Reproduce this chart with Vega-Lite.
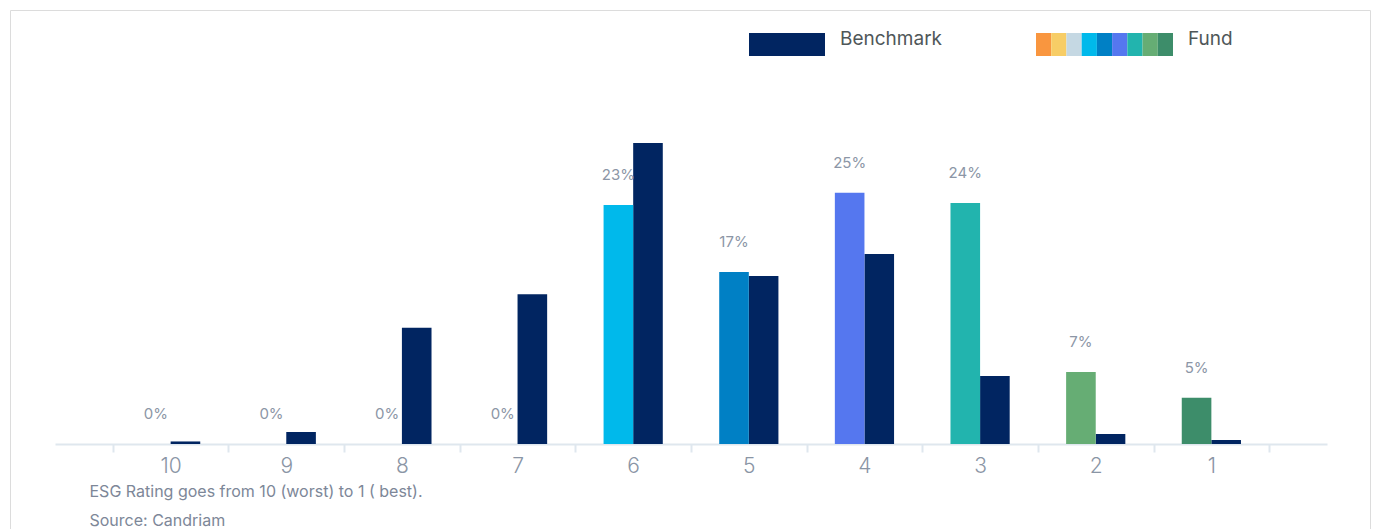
{
  "$schema": "https://vega.github.io/schema/vega-lite/v6.json",
  "width": 1360,
  "height": 530,
  "autosize": {"type": "none"},
  "padding": {"left": 10, "top": 10, "right": 7, "bottom": -11},
  "background": "white",
  "config": {
    "font": "Inter",
    "view": {"stroke": "#dcdcdc", "strokeWidth": 1}
  },
  "data": {
    "values": [
      {"rating": 10, "series": "Fund", "value": 0},
      {"rating": 10, "series": "Benchmark", "value": 0.0025},
      {"rating": 9, "series": "Fund", "value": 0},
      {"rating": 9, "series": "Benchmark", "value": 0.0118},
      {"rating": 8, "series": "Fund", "value": 0},
      {"rating": 8, "series": "Benchmark", "value": 0.114},
      {"rating": 7, "series": "Fund", "value": 0},
      {"rating": 7, "series": "Benchmark", "value": 0.147},
      {"rating": 6, "series": "Fund", "value": 0.2345},
      {"rating": 6, "series": "Benchmark", "value": 0.2954},
      {"rating": 5, "series": "Fund", "value": 0.1688},
      {"rating": 5, "series": "Benchmark", "value": 0.1649},
      {"rating": 4, "series": "Fund", "value": 0.2466},
      {"rating": 4, "series": "Benchmark", "value": 0.1865},
      {"rating": 3, "series": "Fund", "value": 0.2365},
      {"rating": 3, "series": "Benchmark", "value": 0.0667},
      {"rating": 2, "series": "Fund", "value": 0.0707},
      {"rating": 2, "series": "Benchmark", "value": 0.0098},
      {"rating": 1, "series": "Fund", "value": 0.0455},
      {"rating": 1, "series": "Benchmark", "value": 0.0039}
    ]
  },
  "encoding": {
    "x": {
      "field": "rating",
      "type": "ordinal",
      "sort": "descending",
      "scale": {"range": [45, 1317], "paddingInner": 0, "paddingOuter": 0.5},
      "axis": {
        "title": ["ESG Rating goes from 10 (worst) to 1 ( best).", "Source: Candriam"],
        "offset": -96,
        "labelAngle": 0,
        "tickBand": "extent",
        "tickSize": 8,
        "tickWidth": 2,
        "tickColor": "#dfe7ee",
        "domainColor": "#dfe7ee",
        "domainWidth": 2,
        "labelFontSize": 21,
        "labelFontWeight": 300,
        "labelColor": "#8a95a5",
        "labelPadding": 3,
        "titleX": 79,
        "titleY": 52,
        "titleAlign": "left",
        "titleAnchor": "start",
        "titleBaseline": "alphabetic",
        "titleFontSize": 16,
        "titleFontWeight": "normal",
        "titleColor": "#7d8798",
        "titleLineHeight": 29,
        "grid": false
      }
    },
    "xOffset": {
      "field": "series",
      "type": "nominal",
      "sort": ["Fund", "Benchmark"],
      "scale": {"paddingInner": 0, "paddingOuter": 0.953}
    },
    "y": {
      "field": "value",
      "type": "quantitative",
      "scale": {"domain": [0, 0.416], "range": [434, 10], "nice": false},
      "axis": null
    }
  },
  "layer": [
    {
      "transform": [
        {"filter": "datum.series === 'Benchmark'"}
      ],
      "mark": {"type": "bar"},
      "encoding": {
        "fill": {
          "field": "series",
          "type": "nominal",
          "scale": {"range": ["#012561"]},
          "legend": {
            "orient": "none",
            "legendX": 739,
            "legendY": -3.5,
            "title": null,
            "padding": 0,
            "symbolType": "M-1,-0.3026H1V0.3026H-1Z",
            "symbolSize": 5776,
            "symbolStrokeWidth": 0,
            "labelOffset": 15,
            "labelFontSize": 19,
            "labelBaseline": "alphabetic",
            "labelColor": "#4f5759"
          }
        }
      }
    },
    {
      "transform": [
        {"filter": "datum.series === 'Fund'"},
        {"calculate": "10 - datum.rating", "as": "pos"}
      ],
      "mark": {"type": "bar"},
      "encoding": {
        "color": {
          "field": "pos",
          "type": "quantitative",
          "scale": {
            "type": "quantize",
            "domain": [0.5, 9.5],
            "nice": false,
            "zero": false,
            "range": ["#f9963f", "#f7cd66", "#c5d8e3", "#00b9eb", "#0080c5", "#5577ef", "#22b4ae", "#66ad74", "#3d8d6a"]
          },
          "legend": {
            "orient": "none",
            "legendX": 1026,
            "legendY": 23,
            "type": "gradient",
            "direction": "horizontal",
            "padding": 0,
            "title": "Fund",
            "titleOrient": "right",
            "titlePadding": 15,
            "titleFontSize": 19,
            "titleFontWeight": "normal",
            "titleBaseline": "alphabetic",
            "titleColor": "#4f5759",
            "gradientLength": 137,
            "gradientThickness": 23,
            "gradientStrokeWidth": 0,
            "labelExpr": "''",
            "labelFontSize": 1
          }
        }
      }
    },
    {
      "transform": [
        {"filter": "datum.series === 'Fund'"}
      ],
      "mark": {"type": "text", "baseline": "middle", "dy": -30, "fontSize": 15, "color": "#8c96a6"},
      "encoding": {
        "text": {"field": "value", "type": "quantitative", "format": ".0%"}
      }
    }
  ]
}
